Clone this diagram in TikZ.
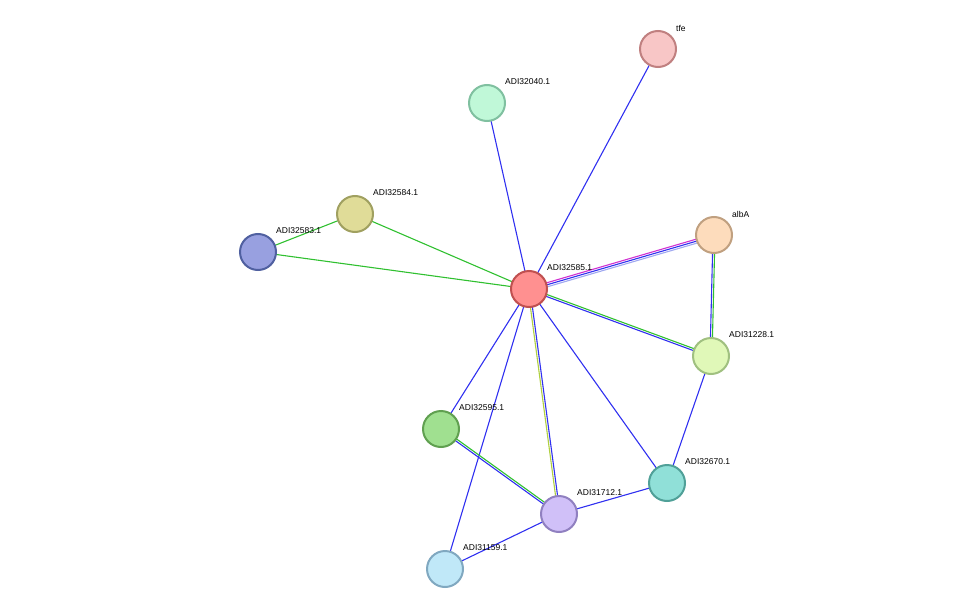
\documentclass[tikz,border=0pt]{standalone}
\usepackage{fontspec}
\setmainfont{Liberation Sans}
\usetikzlibrary{calc,backgrounds}
\definecolor{eblue}{HTML}{3030F0}
\definecolor{egreen}{HTML}{30C030}
\definecolor{eyel}{HTML}{B0D040}
\definecolor{emag}{HTML}{D030D0}
\definecolor{elblue}{HTML}{A0A8F0}
\newcommand{\pedge}[4]{\draw[#4,line width=1.1pt] ($(#1.center)!#3!90:(#2.center)$) -- ($(#2.center)!#3!-90:(#1.center)$);}
\begin{document}
\begin{tikzpicture}[x=1pt,y=-1pt,
  prot/.style={circle,minimum size=36pt,inner sep=0pt,line width=2pt},
  lab/.style={anchor=west,font=\fontsize{8.5}{10}\selectfont,inner sep=0pt}]
\useasboundingbox (0,0) rectangle (976,615);
\node[prot,fill={rgb,255:red,248;green,198;blue,198},draw={rgb,255:red,192;green,128;blue,128}] (tfe) at (658,49) {};
\node[prot,fill={rgb,255:red,192;green,248;blue,216},draw={rgb,255:red,128;green,192;blue,160}] (n040) at (487,103) {};
\node[prot,fill={rgb,255:red,224;green,220;blue,152},draw={rgb,255:red,160;green,160;blue,96}] (n584) at (355,214) {};
\node[prot,fill={rgb,255:red,152;green,160;blue,224},draw={rgb,255:red,80;green,96;blue,160}] (n583) at (258,252) {};
\node[prot,fill={rgb,255:red,255;green,144;blue,144},draw={rgb,255:red,192;green,80;blue,80}] (n585) at (529,289) {};
\node[prot,fill={rgb,255:red,253;green,220;blue,188},draw={rgb,255:red,192;green,160;blue,128}] (alba) at (714,235) {};
\node[prot,fill={rgb,255:red,224;green,248;blue,184},draw={rgb,255:red,160;green,192;blue,128}] (n228) at (711,356) {};
\node[prot,fill={rgb,255:red,160;green,224;blue,144},draw={rgb,255:red,96;green,160;blue,80}] (n595) at (441,429) {};
\node[prot,fill={rgb,255:red,144;green,224;blue,216},draw={rgb,255:red,80;green,160;blue,152}] (n670) at (667,483) {};
\node[prot,fill={rgb,255:red,208;green,192;blue,248},draw={rgb,255:red,144;green,128;blue,192}] (n712) at (559,514) {};
\node[prot,fill={rgb,255:red,192;green,232;blue,248},draw={rgb,255:red,128;green,168;blue,192}] (n159) at (445,569) {};
\node[lab] at (676,28) {tfe};
\node[lab] at (505,82) {ADI32040.1};
\node[lab] at (373,193) {ADI32584.1};
\node[lab] at (276,231) {ADI32583.1};
\node[lab] at (547,268) {ADI32585.1};
\node[lab] at (732,214) {albA};
\node[lab] at (729,335) {ADI31228.1};
\node[lab] at (459,408) {ADI32595.1};
\node[lab] at (685,462) {ADI32670.1};
\node[lab] at (577,493) {ADI31712.1};
\node[lab] at (463,548) {ADI31159.1};
\begin{scope}[on background layer]
\pedge{n585}{tfe}{0pt}{eblue}
\pedge{n585}{n040}{0pt}{eblue}
\pedge{n585}{n584}{0pt}{egreen}
\pedge{n585}{n583}{0pt}{egreen}
\pedge{n583}{n584}{0pt}{egreen}
\pedge{n585}{alba}{-3pt}{elblue}
\pedge{n585}{alba}{-1pt}{eblue}
\pedge{n585}{alba}{1pt}{emag}
\pedge{n585}{n228}{-1pt}{eblue}
\pedge{n585}{n228}{1pt}{egreen}
\pedge{alba}{n228}{-1pt}{eblue}
\pedge{alba}{n228}{1pt}{egreen}
\pedge{n228}{n670}{0pt}{eblue}
\pedge{n585}{n670}{0pt}{eblue}
\pedge{n585}{n595}{0pt}{eblue}
\pedge{n585}{n159}{0pt}{eblue}
\pedge{n585}{n712}{1pt}{eblue}
\pedge{n585}{n712}{-1pt}{eyel}
\pedge{n595}{n712}{-1pt}{eblue}
\pedge{n595}{n712}{1pt}{egreen}
\pedge{n712}{n670}{0pt}{eblue}
\pedge{n712}{n159}{0pt}{eblue}
\end{scope}
\end{tikzpicture}
\end{document}
